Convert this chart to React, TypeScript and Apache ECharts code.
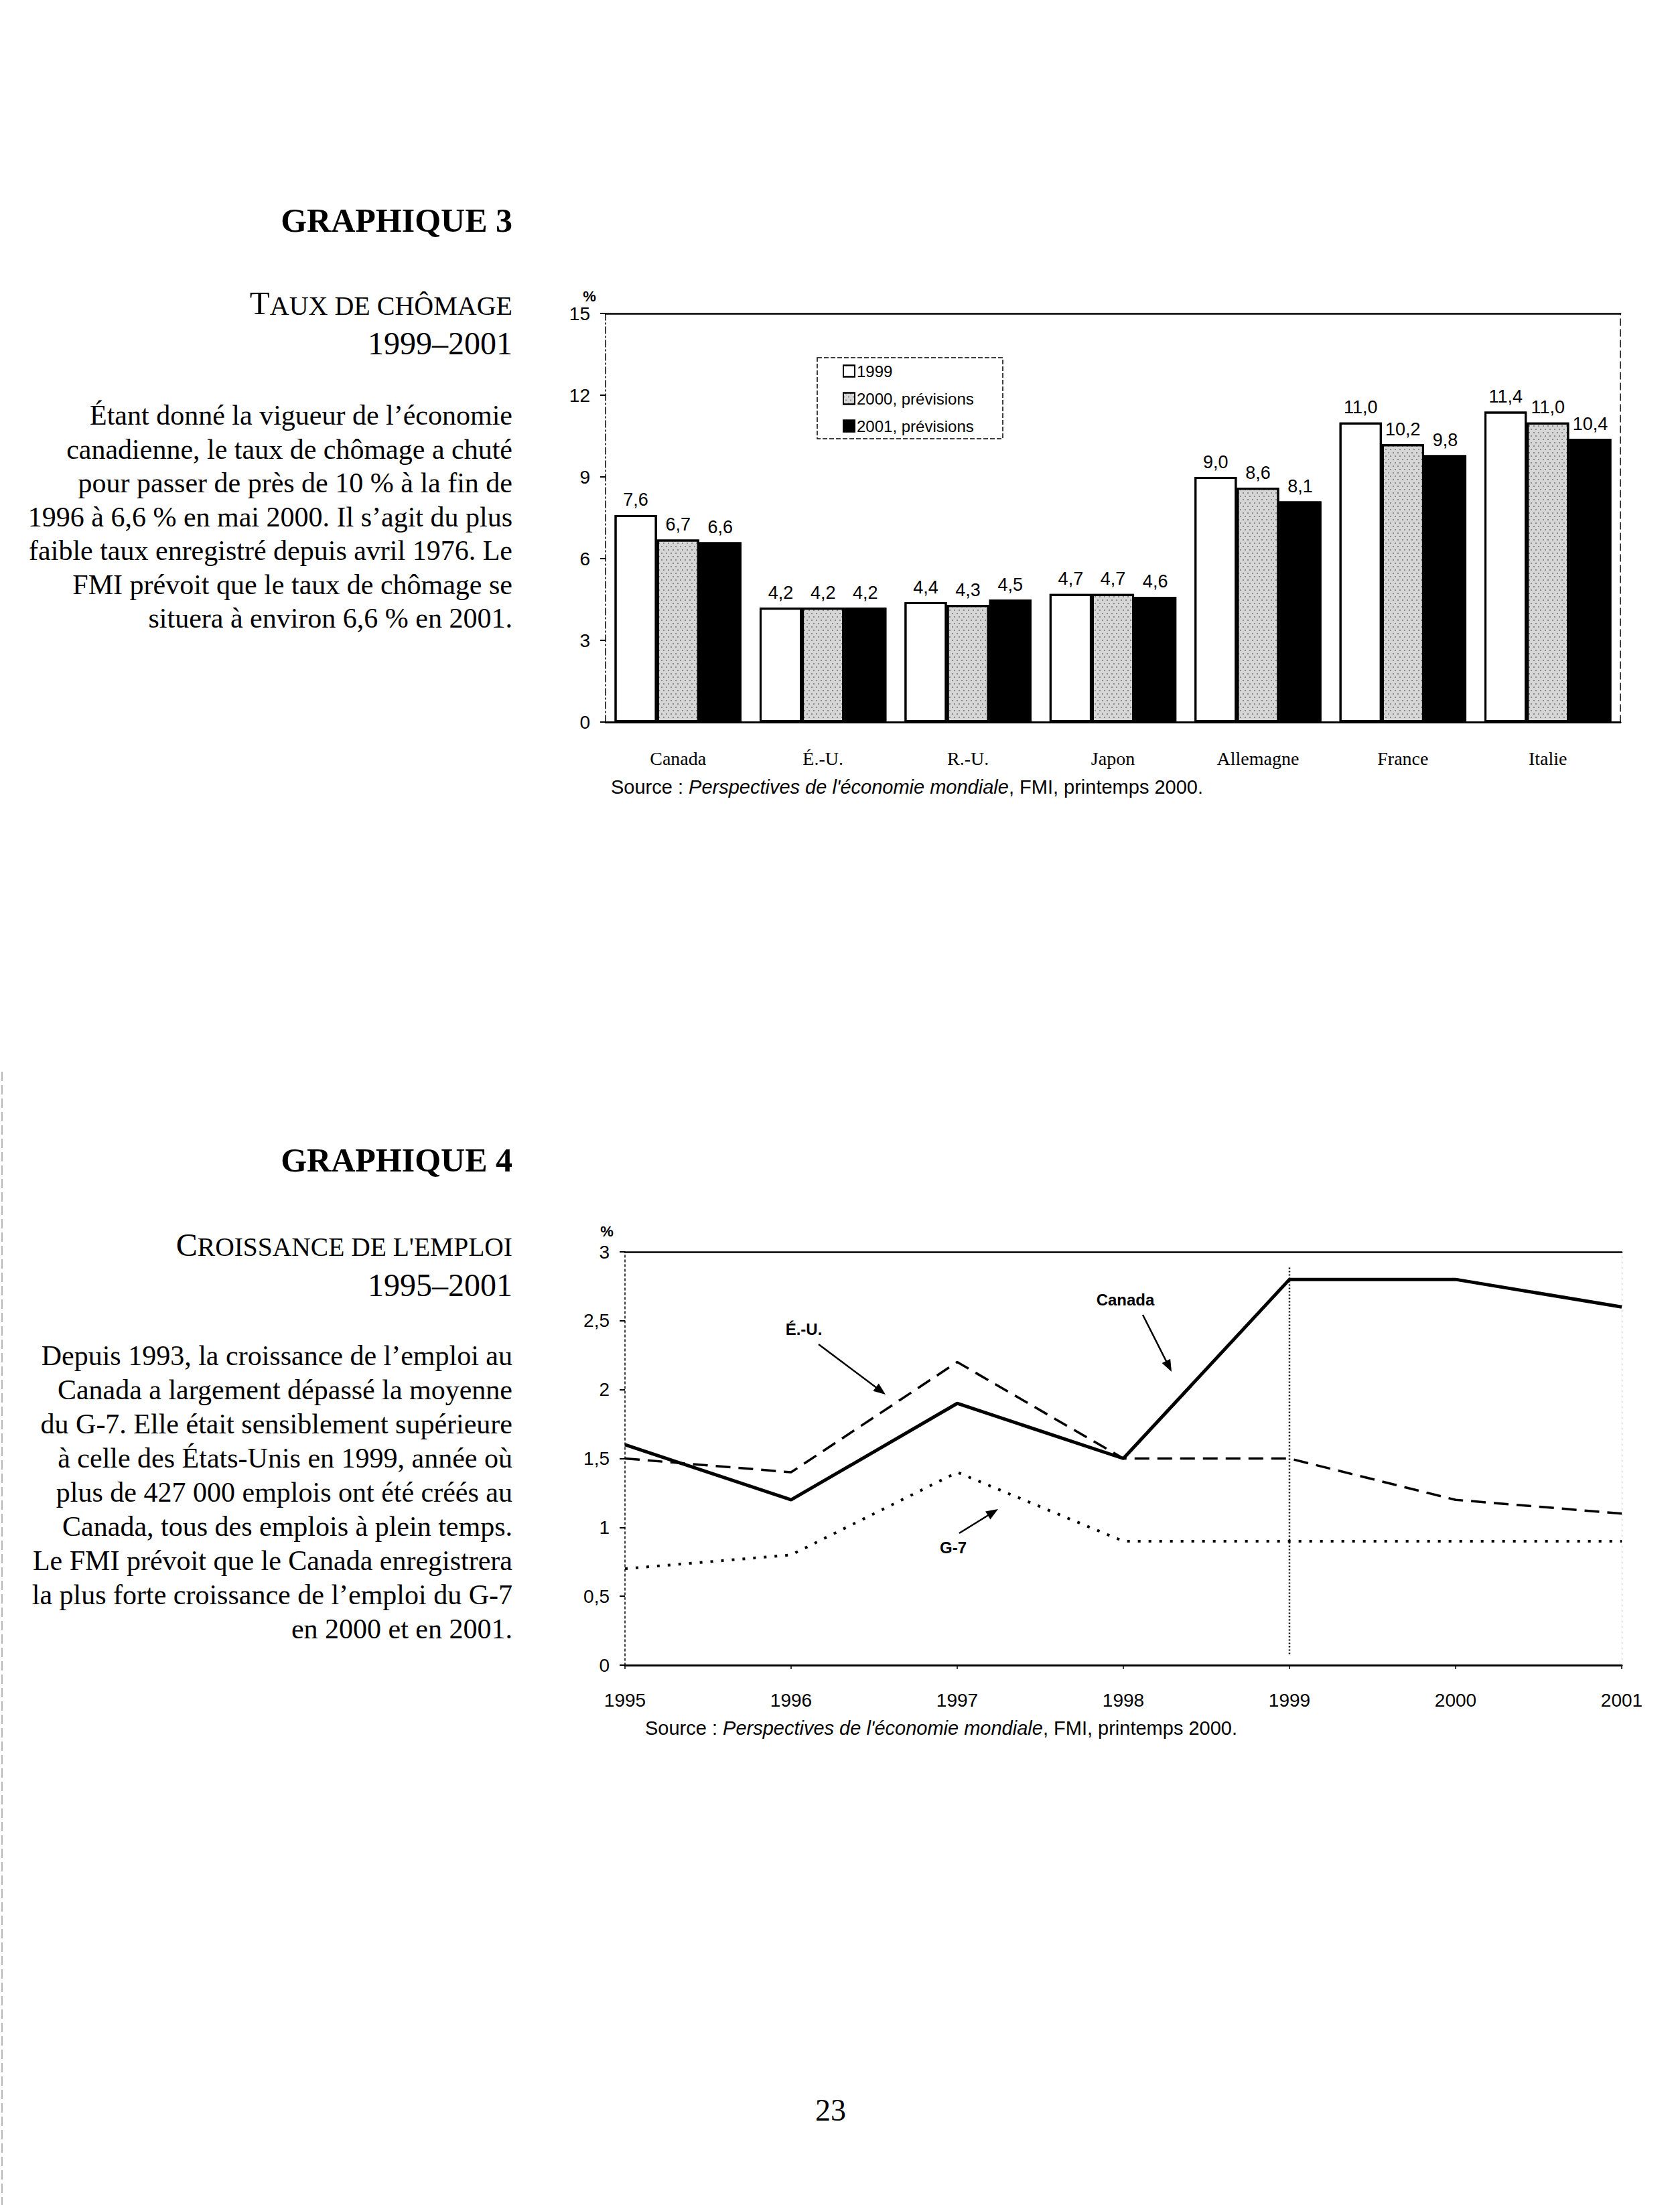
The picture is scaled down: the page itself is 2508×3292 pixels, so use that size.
import React, { useEffect, useRef } from 'react';
import * as echarts from 'echarts';

// ---------- DATA ----------
const countries = ['Canada', 'É.-U.', 'R.-U.', 'Japon', 'Allemagne', 'France', 'Italie'];
const rate1999 = [7.6, 4.2, 4.4, 4.7, 9.0, 11.0, 11.4];
const rate2000 = [6.7, 4.2, 4.3, 4.7, 8.6, 10.2, 11.0];
const rate2001 = [6.6, 4.2, 4.5, 4.6, 8.1, 9.8, 10.4];
const barSeriesNames = ['1999', '2000, prévisions', '2001, prévisions'];

const years = [1995, 1996, 1997, 1998, 1999, 2000, 2001];
const empCanada = [1.6, 1.2, 1.9, 1.5, 2.8, 2.8, 2.6];
const empUS = [1.5, 1.4, 2.2, 1.5, 1.5, 1.2, 1.1];
const empG7 = [0.7, 0.8, 1.4, 0.9, 0.9, 0.9, 0.9];
const forecastYear = 1999;
const forecastSpan = [0.08, 2.9];

const para3 = [
  'Étant donné la vigueur de l’économie',
  'canadienne, le taux de chômage a chuté',
  'pour passer de près de 10 % à la fin de',
  '1996 à 6,6 % en mai 2000. Il s’agit du plus',
  'faible taux enregistré depuis avril 1976. Le',
  'FMI prévoit que le taux de chômage se',
  'situera à environ 6,6 % en 2001.',
];
const para4 = [
  'Depuis 1993, la croissance de l’emploi au',
  'Canada a largement dépassé la moyenne',
  'du G-7. Elle était sensiblement supérieure',
  'à celle des États-Unis en 1999, année où',
  'plus de 427 000 emplois ont été créés au',
  'Canada, tous des emplois à plein temps.',
  'Le FMI prévoit que le Canada enregistrera',
  'la plus forte croissance de l’emploi du G-7',
  'en 2000 et en 2001.',
];
const sourceText = '{n|Source : }{i|Perspectives de l\'économie mondiale}{n|, FMI, printemps 2000.}';

// ---------- STYLE ----------
const SERIF = 'Liberation Serif, Times New Roman, serif';
const SANS = 'Liberation Sans, Arial, sans-serif';
const comma = (v: number, d: number) => (d > 0 ? v.toFixed(d) : String(v)).replace('.', ',');
const NO_DECAL = { symbol: 'none' };

function arrow(x0: number, y0: number, x1: number, y1: number) {
  const dx = x1 - x0, dy = y1 - y0;
  const len = Math.hypot(dx, dy);
  const ux = dx / len, uy = dy / len;
  const L = 18, W = 7;
  return [
    { type: 'line', shape: { x1: x0, y1: y0, x2: x1 - ux * L * 0.6, y2: y1 - uy * L * 0.6 }, style: { stroke: '#000', lineWidth: 2.5 } },
    {
      type: 'polygon',
      shape: { points: [[x1, y1], [x1 - ux * L - uy * W, y1 - uy * L + ux * W], [x1 - ux * L + uy * W, y1 - uy * L - ux * W]] },
      style: { fill: '#000' },
    },
  ];
}

function textEl(text: string, x: number, y: number, font: any, align = 'right') {
  return {
    type: 'text',
    x, y,
    style: { text, align, verticalAlign: 'middle', fill: '#000', ...font },
  };
}

export default function App() {
  const ref = useRef<HTMLDivElement>(null);
  useEffect(() => {
    if (!ref.current) return;
    const chart = echarts.init(ref.current, null, { renderer: 'svg' });

    const barLabel = {
      show: true,
      position: 'top',
      distance: 9,
      fontSize: 27,
      fontFamily: SANS,
      color: '#000',
      formatter: (p: any) => comma(p.value, 1),
    };

    const graphics: any[] = [];
    // Left column chart 3
    graphics.push(textEl('GRAPHIQUE 3', 765, 329, { fontSize: 50, fontWeight: 'bold', fontFamily: SERIF }));
    graphics.push({
      type: 'text', x: 765, y: 452,
      style: {
        text: '{b|T}{s|AUX DE CHÔMAGE}', align: 'right', verticalAlign: 'middle', fill: '#000',
        rich: { b: { fontSize: 49, fontFamily: SERIF, verticalAlign: 'bottom' }, s: { fontSize: 40, fontFamily: SERIF, verticalAlign: 'bottom' } },
      },
    });
    graphics.push(textEl('1999–2001', 765, 512, { fontSize: 48, fontFamily: SERIF }));
    para3.forEach((t, i) => graphics.push(textEl(t, 765, 620 + i * 50.5, { fontSize: 42, fontFamily: SERIF })));

    // Left column chart 4
    graphics.push(textEl('GRAPHIQUE 4', 765, 1732, { fontSize: 50, fontWeight: 'bold', fontFamily: SERIF }));
    graphics.push({
      type: 'text', x: 765, y: 1858,
      style: {
        text: '{b|C}{s|ROISSANCE DE L\'EMPLOI}', align: 'right', verticalAlign: 'middle', fill: '#000',
        rich: { b: { fontSize: 48, fontFamily: SERIF, verticalAlign: 'bottom' }, s: { fontSize: 39.5, fontFamily: SERIF, verticalAlign: 'bottom' } },
      },
    });
    graphics.push(textEl('1995–2001', 765, 1918, { fontSize: 48, fontFamily: SERIF }));
    para4.forEach((t, i) => graphics.push(textEl(t, 765, 2024 + i * 51, { fontSize: 42, fontFamily: SERIF })));

    // % units
    graphics.push(textEl('%', 880, 442, { fontSize: 22, fontWeight: 'bold', fontFamily: SANS }, 'center'));
    graphics.push(textEl('%', 906, 1838, { fontSize: 22, fontWeight: 'bold', fontFamily: SANS }, 'center'));

    // Sources
    const srcRich = { n: { fontSize: 29, fontFamily: SANS }, i: { fontSize: 29, fontFamily: SANS, fontStyle: 'italic' } };
    graphics.push({ type: 'text', x: 912, y: 1175, style: { text: sourceText, rich: srcRich, align: 'left', verticalAlign: 'middle', fill: '#000' } });
    graphics.push({ type: 'text', x: 963, y: 2580, style: { text: sourceText, rich: srcRich, align: 'left', verticalAlign: 'middle', fill: '#000' } });

    // Legend box
    graphics.push({ type: 'rect', shape: { x: 1220, y: 534, width: 277, height: 121 }, style: { fill: 'none', stroke: '#000', lineWidth: 1.5, lineDash: [7, 3] } });

    // Annotations chart 4
    graphics.push(textEl('Canada', 1680, 1940, { fontSize: 24, fontWeight: 'bold', fontFamily: SANS }, 'center'));
    graphics.push(textEl('É.-U.', 1200, 1984, { fontSize: 24, fontWeight: 'bold', fontFamily: SANS }, 'center'));
    graphics.push(textEl('G-7', 1423, 2310, { fontSize: 24, fontWeight: 'bold', fontFamily: SANS }, 'center'));
    graphics.push(...arrow(1706, 1963, 1749, 2048));
    graphics.push(...arrow(1222, 2007, 1322, 2082));
    graphics.push(...arrow(1432, 2289, 1490, 2253));

    // Page number
    graphics.push(textEl('23', 1240, 3150, { fontSize: 46, fontFamily: SERIF }, 'center'));
    // Scan edge line
    graphics.push({ type: 'line', shape: { x1: 3, y1: 1600, x2: 3, y2: 3292 }, style: { stroke: '#888', lineWidth: 1.2, lineDash: [14, 6] } });

    const option: any = {
      animation: false,
      backgroundColor: '#fff',
      aria: { enabled: true, decal: { show: true } },
      grid: [
        { left: 904, top: 468, width: 1515, height: 610 },
        { left: 933, top: 1869, width: 1488, height: 617 },
      ],
      legend: {
        data: barSeriesNames,
        orient: 'vertical',
        left: 1258,
        top: 542,
        padding: 0,
        itemGap: 17,
        itemWidth: 17,
        itemHeight: 17,
        icon: 'rect',
        itemStyle: { borderWidth: 2 },
        textStyle: { fontSize: 24, fontFamily: SANS, color: '#000', padding: [0, 0, 0, -2] },
        selectedMode: false,
      },
      xAxis: [
        {
          type: 'category', gridIndex: 0, position: 'bottom', data: countries,
          axisLine: { show: true, lineStyle: { color: '#000', width: 3 } },
          axisTick: { show: false },
          axisLabel: { fontFamily: SERIF, fontSize: 28, color: '#000', margin: 40 },
        },
        {
          type: 'category', gridIndex: 0, position: 'top', data: countries,
          axisLine: { show: true, onZero: false, lineStyle: { color: '#000', width: 2.5 } },
          axisTick: { show: false }, axisLabel: { show: false },
        },
        {
          type: 'value', gridIndex: 1, position: 'bottom', min: 1995, max: 2001, interval: 1,
          axisLine: { show: true, onZero: false, lineStyle: { color: '#000', width: 3 } },
          axisTick: { show: true, length: 6, lineStyle: { color: '#000', width: 1.5 } },
          axisLabel: { fontFamily: SANS, fontSize: 28, color: '#000', margin: 38, formatter: (v: number) => String(v) },
          splitLine: { show: false },
        },
        {
          type: 'value', gridIndex: 1, position: 'top', min: 1995, max: 2001, interval: 1,
          axisLine: { show: true, onZero: false, lineStyle: { color: '#000', width: 2.5 } },
          axisTick: { show: false }, axisLabel: { show: false }, splitLine: { show: false },
        },
      ],
      yAxis: [
        {
          type: 'value', gridIndex: 0, position: 'left', min: 0, max: 15, interval: 3,
          axisLine: { show: true, onZero: false, lineStyle: { color: '#000', width: 1.5, type: [10, 4, 2, 4] } },
          axisTick: { show: true, length: 8, lineStyle: { color: '#000', width: 2 } },
          axisLabel: { fontFamily: SANS, fontSize: 28, color: '#000', margin: 23 },
          splitLine: { show: false },
        },
        {
          type: 'value', gridIndex: 0, position: 'right', min: 0, max: 15, interval: 3,
          axisLine: { show: true, onZero: false, lineStyle: { color: '#000', width: 1.5, type: [10, 6] } },
          axisTick: { show: false }, axisLabel: { show: false }, splitLine: { show: false },
        },
        {
          type: 'value', gridIndex: 1, position: 'left', min: 0, max: 3, interval: 0.5,
          axisLine: { show: true, onZero: false, lineStyle: { color: '#000', width: 1.5, type: [3, 4] } },
          axisTick: { show: true, length: 8, lineStyle: { color: '#000', width: 2 } },
          axisLabel: { fontFamily: SANS, fontSize: 28, color: '#000', margin: 23, formatter: (v: number) => comma(v, 0) },
          splitLine: { show: false },
        },
        {
          type: 'value', gridIndex: 1, position: 'right', min: 0, max: 3, interval: 0.5,
          axisLine: { show: true, onZero: false, lineStyle: { color: '#bbb', width: 1.2, type: [2, 6] } },
          axisTick: { show: false }, axisLabel: { show: false }, splitLine: { show: false },
        },
      ],
      series: [
        {
          name: barSeriesNames[0], type: 'bar', xAxisIndex: 0, yAxisIndex: 0, data: rate1999,
          barGap: '0%', barCategoryGap: '12.5%',
          itemStyle: { color: '#fff', borderColor: '#000', borderWidth: 3, decal: NO_DECAL },
          label: barLabel,
        },
        {
          name: barSeriesNames[1], type: 'bar', xAxisIndex: 0, yAxisIndex: 0, data: rate2000,
          barGap: '0%', barCategoryGap: '12.5%',
          itemStyle: {
            color: '#d6d6d6', borderColor: '#000', borderWidth: 3,
            decal: { symbol: 'rect', symbolSize: 1, color: 'rgba(0,0,0,0.35)', dashArrayX: [[2, 5], [0, 3, 2, 2]], dashArrayY: [2, 3], rotation: 0 },
          },
          label: barLabel,
        },
        {
          name: barSeriesNames[2], type: 'bar', xAxisIndex: 0, yAxisIndex: 0, data: rate2001,
          barGap: '0%', barCategoryGap: '12.5%',
          itemStyle: { color: '#000', borderColor: '#000', borderWidth: 3, decal: NO_DECAL },
          label: barLabel,
        },
        {
          name: 'Canada', type: 'line', xAxisIndex: 2, yAxisIndex: 2,
          data: years.map((y, i) => [y, empCanada[i]]),
          symbol: 'none', lineStyle: { color: '#000', width: 5 },
        },
        {
          name: 'É.-U.', type: 'line', xAxisIndex: 2, yAxisIndex: 2,
          data: years.map((y, i) => [y, empUS[i]]),
          symbol: 'none', lineStyle: { color: '#000', width: 3.5, type: [22, 12] },
        },
        {
          name: 'G-7', type: 'line', xAxisIndex: 2, yAxisIndex: 2,
          data: years.map((y, i) => [y, empG7[i]]),
          symbol: 'none', lineStyle: { color: '#000', width: 4, type: [4, 12] },
        },
        {
          name: 'prévisions', type: 'line', xAxisIndex: 2, yAxisIndex: 2,
          data: forecastSpan.map((v) => [forecastYear, v]),
          symbol: 'none', lineStyle: { color: '#000', width: 2.5, type: [2, 3] },
        },
      ],
      graphic: graphics,
    };
    chart.setOption(option);
    return () => chart.dispose();
  }, []);
  return (
    <div
      ref={ref}
      style={{ position: 'absolute', left: 0, top: 0, width: 2508, height: 3292, background: '#fff' }}
    />
  );
}
